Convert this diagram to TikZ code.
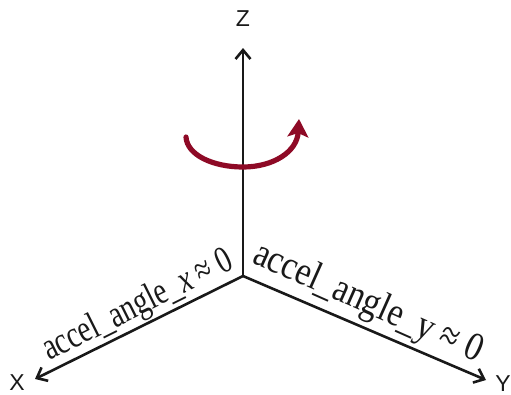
\documentclass[tikz,border=0pt]{standalone}
\usepackage{graphicx}
\usepackage{fontspec}
\setmainfont{Liberation Serif}
\newfontfamily\axisfont{Liberation Sans}
\usetikzlibrary{arrows.meta}
\definecolor{spinred}{HTML}{8E0A26}
\tikzset{
  axisline/.style={line width=2.6pt,draw=black!90,-{Straight Barb[length=9pt,width=15pt,line width=2.6pt]}},
  axislabel/.style={font=\axisfont\fontsize{23}{23}\selectfont,text=black!90,inner sep=0pt},
  anglelabel/.style={inner sep=0pt,text=black!90},
}
\begin{document}
\begin{tikzpicture}[x=1pt,y=-1pt]
\useasboundingbox (0,0) rectangle (511,394);
\coordinate (O) at (243,276);
\coordinate (Ze) at (243,48);
\coordinate (Xe) at (35,379);
\coordinate (Ye) at (486,380);
\draw[axisline] (O) -- (Ze);
\draw[axisline] (O) -- (Xe);
\draw[axisline] (O) -- (Ye);
\node[axislabel] (zl) at (243,19) {Z};
\node[axislabel] (xl) at (17,383) {X};
\node[axislabel] (yl) at (503,384) {Y};
\node[anglelabel,anchor=base west,rotate=26.5,font=\fontsize{38}{38}\selectfont] (ax) at (49,361) {\scalebox{.76}[1]{accel\_angle\_\textit{x} ≈ 0}};
\node[anglelabel,anchor=base west,rotate=-24,font=\fontsize{40}{40}\selectfont] (ay) at (251,262) {\scalebox{.85}[1]{accel\_angle\_y ≈ 0}};
\coordinate (As) at (186,137);
\coordinate (Am) at (243,167);
\coordinate (Ae) at (299,119);
\draw[line width=5.2pt,draw=spinred,line cap=round,-{Stealth[length=18pt,width=21pt,inset=4pt]}]
  (As) .. controls (187,155) and (213,167) .. (Am)
  .. controls (273,167) and (297,152) .. (Ae);
\end{tikzpicture}
\end{document}
